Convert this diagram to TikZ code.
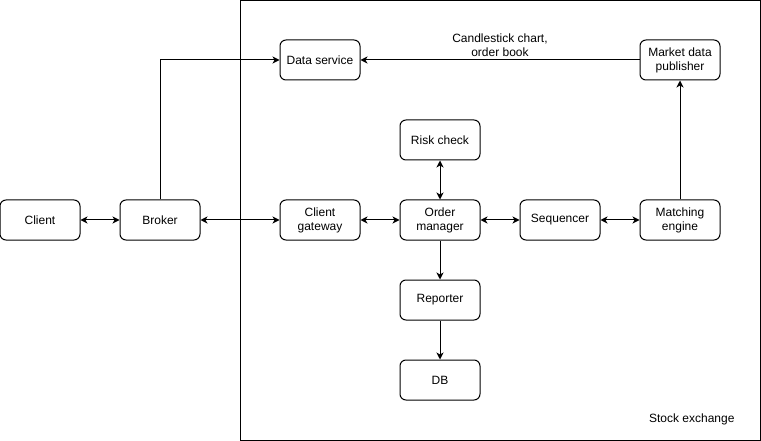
\documentclass[tikz,border=0pt]{standalone}
\usepackage{fontspec}
\setmainfont{Liberation Sans}
\usetikzlibrary{arrows.meta}
\begin{document}
\begin{tikzpicture}[x=1pt,y=-1pt,
  box/.style={draw,line width=1pt,rounded corners=6pt,minimum width=80pt,minimum height=40pt,align=center,font=\fontsize{12}{14}\selectfont,inner sep=0pt},
  conn/.style={line width=1pt,-{Stealth[length=7pt,width=7pt,inset=2pt]}},
  bi/.style={line width=1pt,{Stealth[length=7pt,width=7pt,inset=2pt]}-{Stealth[length=7pt,width=7pt,inset=2pt]}},
  lbl/.style={font=\fontsize{12}{14}\selectfont,align=center}]
\useasboundingbox (0,0) rectangle (761,441);
\draw[line width=1pt] (240.5,0.5) rectangle (760,440);
\node[box] (client) at (40,220) {Client};
\node[box] (broker) at (160,220) {Broker};
\node[box] (gw) at (320,220) {Client\\gateway};
\node[box] (om) at (440,220) {Order\\manager};
\node[box] (seq) at (560,220) {Sequencer};
\node[box] (me) at (680,220) {Matching\\engine};
\node[box] (risk) at (440,140) {Risk check};
\node[box] (rep) at (440,300) {Reporter};
\node[box] (db) at (440,380) {DB};
\node[box] (ds) at (320,60) {Data service};
\node[box] (mdp) at (680,60) {Market data\\publisher};
\node[lbl] (cap) at (500,45) {Candlestick chart,\\order book};
\node[lbl,anchor=east] (se) at (738,419) {Stock exchange};
\draw[bi] (client) -- (broker);
\draw[bi] (broker) -- (gw);
\draw[bi] (gw) -- (om);
\draw[bi] (om) -- (seq);
\draw[bi] (seq) -- (me);
\draw[bi] (risk) -- (om);
\draw[conn] (om) -- (rep);
\draw[conn] (rep) -- (db);
\draw[conn] (me) -- (mdp);
\draw[conn] (mdp) -- (ds);
\draw[conn] (broker.north) |- (ds.west);
\end{tikzpicture}
\end{document}
